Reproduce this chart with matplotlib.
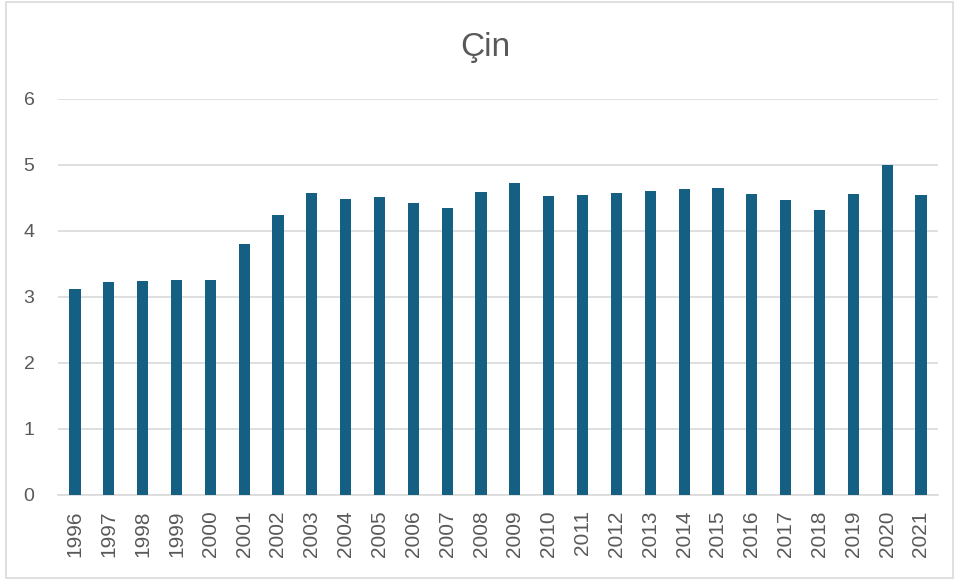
import matplotlib
matplotlib.use("Agg")
import matplotlib.pyplot as plt
from matplotlib.patches import Rectangle

# values
years = [str(y) for y in range(1996, 2022)]
values = [3.12, 3.23, 3.24, 3.25, 3.26, 3.80, 4.24, 4.58, 4.49, 4.52,
          4.43, 4.35, 4.59, 4.72, 4.53, 4.55, 4.58, 4.60, 4.63, 4.65,
          4.56, 4.47, 4.31, 4.56, 5.00, 4.55]
title = "Çin"
yticks = [0, 1, 2, 3, 4, 5, 6]

bar_color = "#156082"
grid_color = "#D9D9D9"
text_color = "#595959"

plt.rcParams["font.family"] = ["Liberation Sans", "DejaVu Sans"]

fig = plt.figure(figsize=(9.59, 5.8), dpi=100)
ax = fig.add_axes([0.0605, 0.1466, 0.9175, 0.6828])

x = range(len(years))
ax.bar(x, values, width=0.33, color=bar_color, zorder=3)

ax.set_xlim(-0.5, len(years) - 0.5)
ax.set_ylim(0, 6)
ax.set_yticks(yticks)
ax.set_yticklabels([str(t) for t in yticks], fontsize=14, color=text_color)
ax.set_xticks(list(x))
ax.set_xticklabels(years, rotation=90, fontsize=15, color=text_color)
ax.tick_params(axis="both", length=0)
ax.tick_params(axis="y", pad=17)
ax.tick_params(axis="x", pad=11)

ax.grid(axis="y", color=grid_color, linewidth=1.2, zorder=0)
for side in ["top", "right", "left"]:
    ax.spines[side].set_visible(False)
ax.spines["bottom"].set_color(grid_color)
ax.spines["bottom"].set_linewidth(1.2)

fig.text(0.5057, 0.9034, title, ha="center", va="baseline", fontsize=24, color=text_color)

# light frame around the whole chart
fig.patches.append(Rectangle((0.006, 0.004), 0.988, 0.992, transform=fig.transFigure,
                             fill=False, edgecolor=grid_color, linewidth=1.2))

fig.savefig("out.png", dpi=100)
